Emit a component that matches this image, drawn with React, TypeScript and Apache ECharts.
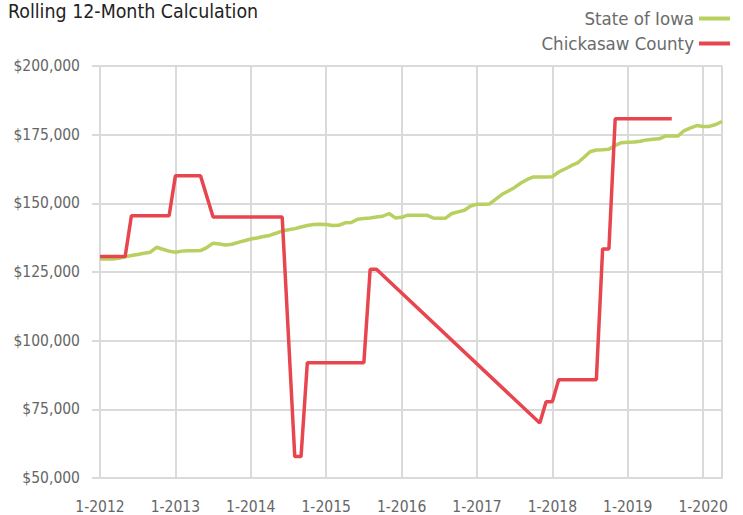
import React, { useEffect, useRef } from "react";
import * as echarts from "echarts";

const START_YEAR = 2012;
const MONTH_COUNT = 100;
const categories: string[] = [];
for (let i = 0; i < MONTH_COUNT; i++) {
  categories.push(`${(i % 12) + 1}-${START_YEAR + Math.floor(i / 12)}`);
}

const seriesNames = ["State of Iowa", "Chickasaw County"];

const iowa = [
  129700, 129700, 129700, 130000, 130500, 131000, 131400, 131800, 132200, 134000, 133300, 132600,
  132200, 132600, 132700, 132700, 132800, 133900, 135500, 135200, 134800, 135100, 135800, 136400,
  137000, 137400, 137900, 138300, 139100, 140000, 140400, 140800, 141400, 141900, 142300, 142400,
  142300, 141900, 142000, 142900, 143000, 144200, 144500, 144700, 145000, 145300, 146300, 144700,
  144900, 145700, 145700, 145700, 145700, 144700, 144600, 144600, 146300, 146900, 147500, 149000,
  149700, 149700, 149800, 151500, 153300, 154500, 155800, 157400, 158700, 159600, 159600, 159600,
  159700, 161400, 162500, 163700, 164700, 166700, 168800, 169400, 169500, 169700, 171100, 172100,
  172200, 172300, 172600, 173100, 173300, 173500, 174500, 174500, 174500, 176500, 177500, 178300,
  178000, 178000, 178700, 179800,
];

const chickasaw: (number | null)[] = [
  130600, 130600, 130600, 130600, 130600, 145500, 145500, 145500, 145500, 145500, 145500, 145500,
  160000, 160000, 160000, 160000, 160000, null, 145000, 145000, 145000, 145000, 145000, 145000,
  145000, 145000, 145000, 145000, 145000, 145000, null, 57800, 57800, 92000, 92000, 92000,
  92000, 92000, 92000, 92000, 92000, 92000, 92000, 126000, 126000, null, null, null,
  null, null, null, null, null, null, null, null, null, null, null, null,
  null, null, null, null, null, null, null, null, null, null, 70000, 77800,
  77800, 85800, 85800, 85800, 85800, 85800, 85800, 85800, 133400, 133400, 180800, 180800,
  180800, 180800, 180800, 180800, 180800, 180800, 180800, 180800, null, null, null, null,
  null, null, null, null,
];

const Y_MIN = 50000;
const Y_MAX = 200000;
const Y_STEP = 25000;

const FONT = "'Liberation Sans Narrow', 'DejaVu Sans Condensed', Roboto, 'Liberation Sans', sans-serif";
const GRID = "#dadada";

export default function App() {
  const ref = useRef<HTMLDivElement>(null);
  useEffect(() => {
    document.body.style.margin = "0";
    const chart = echarts.init(ref.current!, null, { renderer: "svg" });
    const isYear = (i: number) => i % 12 === 0;
    chart.setOption({
      animation: false,
      textStyle: { fontFamily: FONT },
      title: {
        text: "Rolling 12-Month Calculation",
        left: 8,
        top: 2,
        padding: 0,
        textStyle: { fontFamily: FONT, fontSize: 19.4, fontWeight: "normal", color: "#222" },
      },
      legend: {
        orient: "vertical",
        right: 8,
        top: 4,
        align: "right",
        itemWidth: 31,
        itemHeight: 4,
        itemGap: 6,
        icon: "rect",
        textStyle: { fontFamily: FONT, fontSize: 18.5, color: "#6b6b6b" },
        data: seriesNames,
      },
      grid: { left: 100, right: 21, top: 66, bottom: 37 },
      xAxis: {
        type: "category",
        boundaryGap: false,
        data: categories,
        axisLine: { show: true, lineStyle: { color: GRID, width: 2 } },
        axisTick: { show: false },
        axisLabel: {
          interval: (i: number) => isYear(i),
          color: "#666",
          fontSize: 15.5,
          margin: 21,
          fontFamily: FONT,
        },
        splitLine: {
          show: true,
          interval: (i: number) => isYear(i) || i === MONTH_COUNT - 1,
          lineStyle: { color: GRID, width: 2 },
        },
      },
      yAxis: {
        type: "value",
        min: Y_MIN,
        max: Y_MAX,
        interval: Y_STEP,
        axisLine: { show: false },
        axisTick: { show: true, length: 8, lineStyle: { color: GRID, width: 2 } },
        axisLabel: {
          color: "#666",
          fontSize: 15.5,
          margin: 20,
          fontFamily: FONT,
          formatter: (v: number) => "$" + v.toLocaleString("en-US"),
        },
        splitLine: { show: true, lineStyle: { color: GRID, width: 2 } },
      },
      series: [
        {
          name: seriesNames[0],
          type: "line",
          data: iowa,
          showSymbol: false,
          symbol: "none",
          lineStyle: { color: "#b7d05f", width: 3.5 },
          itemStyle: { color: "#b7d05f" },
        },
        {
          name: seriesNames[1],
          type: "line",
          data: chickasaw,
          connectNulls: true,
          showSymbol: false,
          symbol: "none",
          lineStyle: { color: "#e8464f", width: 3.5 },
          itemStyle: { color: "#e8464f" },
        },
      ],
    });
    return () => chart.dispose();
  }, []);
  return <div ref={ref} style={{ width: 743, height: 515 }} />;
}
